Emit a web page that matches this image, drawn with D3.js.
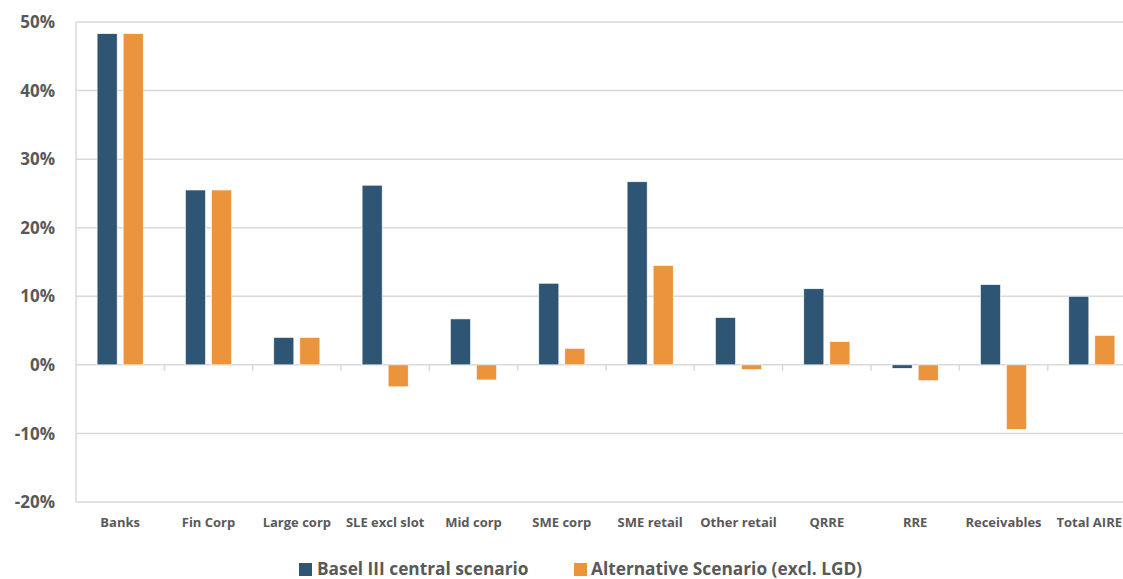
<!DOCTYPE html>
<html><head><meta charset="utf-8">
<script src="https://cdn.jsdelivr.net/npm/d3@7/dist/d3.min.js"></script>
<style>body{margin:0;background:#fff}svg{display:block}</style>
</head><body>
<svg id="c" width="1123" height="579"></svg>
<script>
const categories = ["Banks","Fin Corp","Large corp","SLE excl slot","Mid corp","SME corp","SME retail","Other retail","QRRE","RRE","Receivables","Total AIRE"];
const seriesNames = ["Basel III central scenario","Alternative Scenario (excl. LGD)"];
const baselValues = [48.3, 25.5, 4.0, 26.2, 6.7, 11.9, 26.7, 6.9, 11.1, -0.5, 11.7, 10.0];
const altValues = [48.3, 25.5, 4.0, -3.2, -2.2, 2.4, 14.5, -0.7, 3.4, -2.3, -9.4, 4.3];
const yTicks = [-20,-10,0,10,20,30,40,50];
const colors = ["#2e5573","#eb943c"];

(function(){
const svg = d3.select("#c");
const W = 1123;
const pl = 76, pr = 1136, pt = 22, pb = 502;
const font = "'Open Sans', Lato, sans-serif";
const txt = "#595959";
const grid = "#d9d9d9";

const x = d3.scaleBand().domain(categories).range([pl, pr]).paddingInner(0).paddingOuter(0);
const y = d3.scaleLinear().domain([-20, 50]).range([pb, pt]);
const x1 = d3.scaleBand().domain([0,1]).range([0, x.bandwidth()]).paddingInner(0.23).paddingOuter(0.81);

svg.append("g").selectAll("line").data(yTicks).join("line")
  .attr("x1", pl).attr("x2", pr).attr("y1", d=>y(d)).attr("y2", d=>y(d))
  .attr("stroke", grid).attr("stroke-width", 1.5);
svg.append("line").attr("x1", pl).attr("x2", pl).attr("y1", pt).attr("y2", pb)
  .attr("stroke", grid).attr("stroke-width", 1.5);

svg.append("g").selectAll("text").data(yTicks).join("text")
  .attr("x", 55).attr("y", d=>y(d)).attr("dy", "0.36em").attr("text-anchor", "end")
  .attr("font-family", font).attr("font-weight", "bold").attr("font-size", 17).attr("fill", txt)
  .text(d=>d + "%");

const data = categories.map((c,i)=>({c, v:[baselValues[i], altValues[i]]}));
const g = svg.append("g").selectAll("g").data(data).join("g").attr("transform", d=>`translate(${x(d.c)},0)`);
g.selectAll("rect").data(d=>d.v.map((v,k)=>({v,k}))).join("rect")
  .attr("x", d=>x1(d.k)).attr("width", x1.bandwidth())
  .attr("y", d=>y(Math.max(0,d.v))).attr("height", d=>Math.abs(y(d.v)-y(0)))
  .attr("fill", d=>colors[d.k]).attr("stroke", "#fff").attr("stroke-width", 0.6);

svg.append("g").selectAll("line").data(categories.slice(1)).join("line")
  .attr("x1", d=>x(d)).attr("x2", d=>x(d)).attr("y1", y(0)).attr("y2", y(0)+6)
  .attr("stroke", grid).attr("stroke-width", 1.5);

svg.append("g").selectAll("text").data(categories).join("text")
  .attr("x", d=>x(d)+x.bandwidth()/2).attr("y", 527).attr("text-anchor", "middle")
  .attr("font-family", font).attr("font-weight", "bold").attr("font-size", 13).attr("fill", txt)
  .text(d=>d)
  .each(function(d){
    const w = this.getComputedTextLength();
    const cx = x(d)+x.bandwidth()/2;
    if (cx + w/2 > W - 1) d3.select(this).attr("x", W - 1 - w/2);
  });

const leg = [{x:299, tx:317},{x:574, tx:591}];
seriesNames.forEach((n,i)=>{
  svg.append("rect").attr("x", leg[i].x).attr("y", 563).attr("width", 13).attr("height", 13).attr("fill", colors[i]);
  svg.append("text").attr("x", leg[i].tx).attr("y", 575)
    .attr("font-family", font).attr("font-weight", "bold").attr("font-size", 17.3).attr("fill", txt).text(n);
});
})();
</script>
</body></html>
